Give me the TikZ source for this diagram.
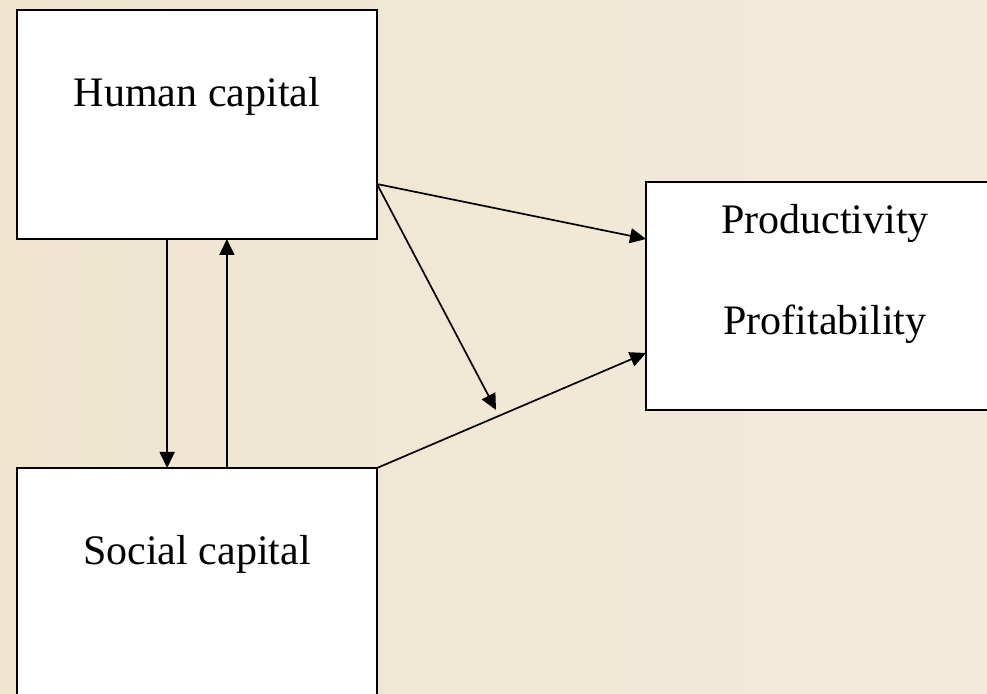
\documentclass[tikz,border=0pt]{standalone}
\usepackage{fontspec}
\setmainfont{Liberation Serif}
\usetikzlibrary{arrows.meta,calc}
\definecolor{bgleft}{RGB}{239,229,207}
\definecolor{bgright}{RGB}{242,235,219}
\begin{document}
\begin{tikzpicture}[x=0.5pt,y=-0.5pt,
  box/.style={draw=black,fill=white,line width=1pt,inner sep=0pt,outer sep=0pt},
  lbl/.style={anchor=base,font=\fontsize{21}{25}\selectfont,inner sep=0pt},
  conn/.style={line width=0.85pt,-{Triangle[length=8pt,width=7.5pt]}}]
\clip (0,0) rectangle (987,694);
\shade[left color=bgleft,right color=bgright] (0,0) rectangle (987,694);
% boxes
\node[box,minimum width=180pt,minimum height=114.5pt] (hc) at (197,124.5) {};
\node[box,minimum width=180pt,minimum height=126pt] (sc) at (197,594) {};
\node[box,minimum width=177pt,minimum height=114pt] (pp) at (823,296) {};
% texts
\node[lbl] (hct) at (197,107) {Human capital};
\node[lbl] (sct) at (197,565) {Social capital};
\node[lbl] (ppt) at (825,234) {Productivity};
\node[lbl] (pft) at (825,335) {Profitability};
% connectors
\coordinate (hcout) at ($(hc.south east)!0.24!(hc.north east)$);
\coordinate (mid) at (496,410);
\draw[conn] (hcout) -- ($(pp.north west)!0.25!(pp.south west)$);
\draw[conn] (hcout) -- (mid);
\draw[conn] (sc.north east) -- ($(pp.north west)!0.75!(pp.south west)$);
\draw[conn] ($(hc.south west)!0.417!(hc.south east)$) -- ($(sc.north west)!0.417!(sc.north east)$);
\draw[conn] ($(sc.north west)!0.583!(sc.north east)$) -- ($(hc.south west)!0.583!(hc.south east)$);
\end{tikzpicture}
\end{document}
